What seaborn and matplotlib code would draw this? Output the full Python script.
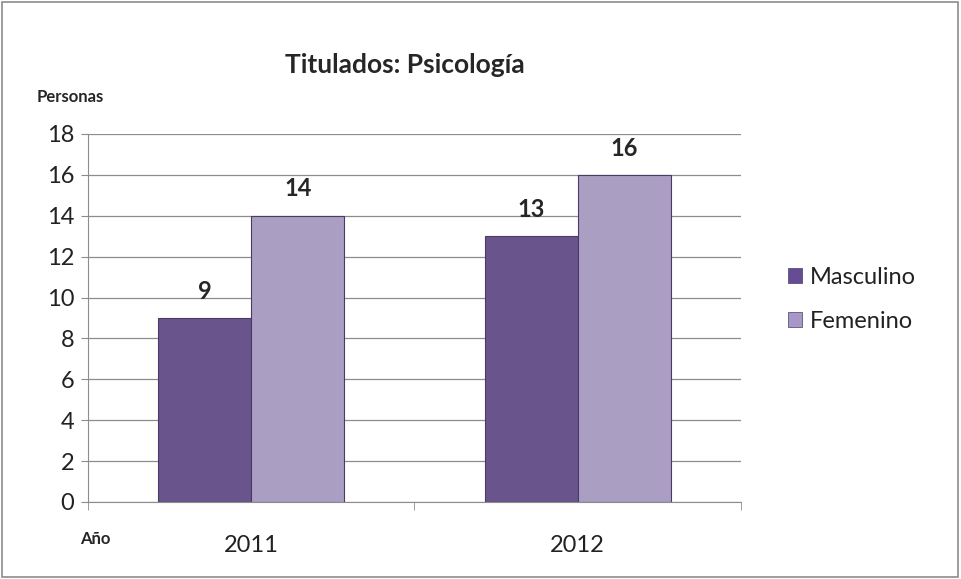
import matplotlib
matplotlib.use("Agg")
import matplotlib.pyplot as plt
import matplotlib.patches as mpatches
import pandas as pd
import seaborn as sns

# Data
years = ["2011", "2012"]
masculino = [9, 13]
femenino = [14, 16]
series_names = ["Masculino", "Femenino"]
colors = ["#664C95", "#A898C8"]

df = pd.DataFrame({
    "Año": years * 2,
    "Sexo": [series_names[0]] * len(years) + [series_names[1]] * len(years),
    "Personas": masculino + femenino,
})

sns.set_style("white")
plt.rcParams["font.family"] = ["Lato", "DejaVu Sans"]

fig = plt.figure(figsize=(9.61, 5.79), dpi=100)
ax = fig.add_axes([0.0916, 0.133, 0.6794, 0.6356])

sns.barplot(
    data=df, x="Año", y="Personas", hue="Sexo",
    palette=colors, width=0.57, gap=0, ax=ax,
    edgecolor="#4a3a66", linewidth=0.8, legend=False,
)

# Value labels
for container in ax.containers:
    ax.bar_label(container, fmt="%d", padding=11, fontsize=17, fontweight="bold")

ax.set_ylim(0, 18)
ax.set_yticks(range(0, 19, 2))
ax.set_xlim(-0.5, 1.5)
ax.yaxis.grid(True, color="#8c8c8c", linewidth=0.9)
ax.set_axisbelow(True)
ax.set_xlabel("")
ax.set_ylabel("")

for side in ["top", "right"]:
    ax.spines[side].set_visible(False)
for side in ["left", "bottom"]:
    ax.spines[side].set_color("#8c8c8c")

ax.tick_params(axis="y", which="major", length=5, color="#8c8c8c", labelsize=17, pad=5,
               direction="out", left=True, labelcolor="#222222")
ax.tick_params(axis="x", which="major", length=0, labelsize=17, pad=24, labelcolor="#222222")
ax.set_xticks([-0.5, 0.5, 1.5], minor=True)
ax.tick_params(axis="x", which="minor", length=6, color="#8c8c8c", direction="out", bottom=True)

fig.text(0.421, 0.887, "Titulados: Psicología", ha="center", va="center", fontsize=19, fontweight="bold")
fig.text(0.038, 0.833, "Personas", ha="left", va="center", fontsize=12, fontweight="bold")
fig.text(0.083, 0.069, "Año", ha="left", va="center", fontsize=12, fontweight="bold")

handles = [mpatches.Patch(facecolor=c, edgecolor="#4a3a66", linewidth=0.5) for c in colors]
fig.legend(handles, series_names, loc="center left", bbox_to_anchor=(0.808, 0.483),
           frameon=False, fontsize=17, handlelength=0.6, handleheight=0.6,
           handletextpad=0.3, labelspacing=1.0, borderpad=0, labelcolor="#222222")

# Outer chart border
fig.patches.append(mpatches.Rectangle((0.002, 0.003), 0.995, 0.993, transform=fig.transFigure,
                                      fill=False, edgecolor="#8c8c8c", linewidth=1.2))

fig.savefig("out.png", dpi=100)
